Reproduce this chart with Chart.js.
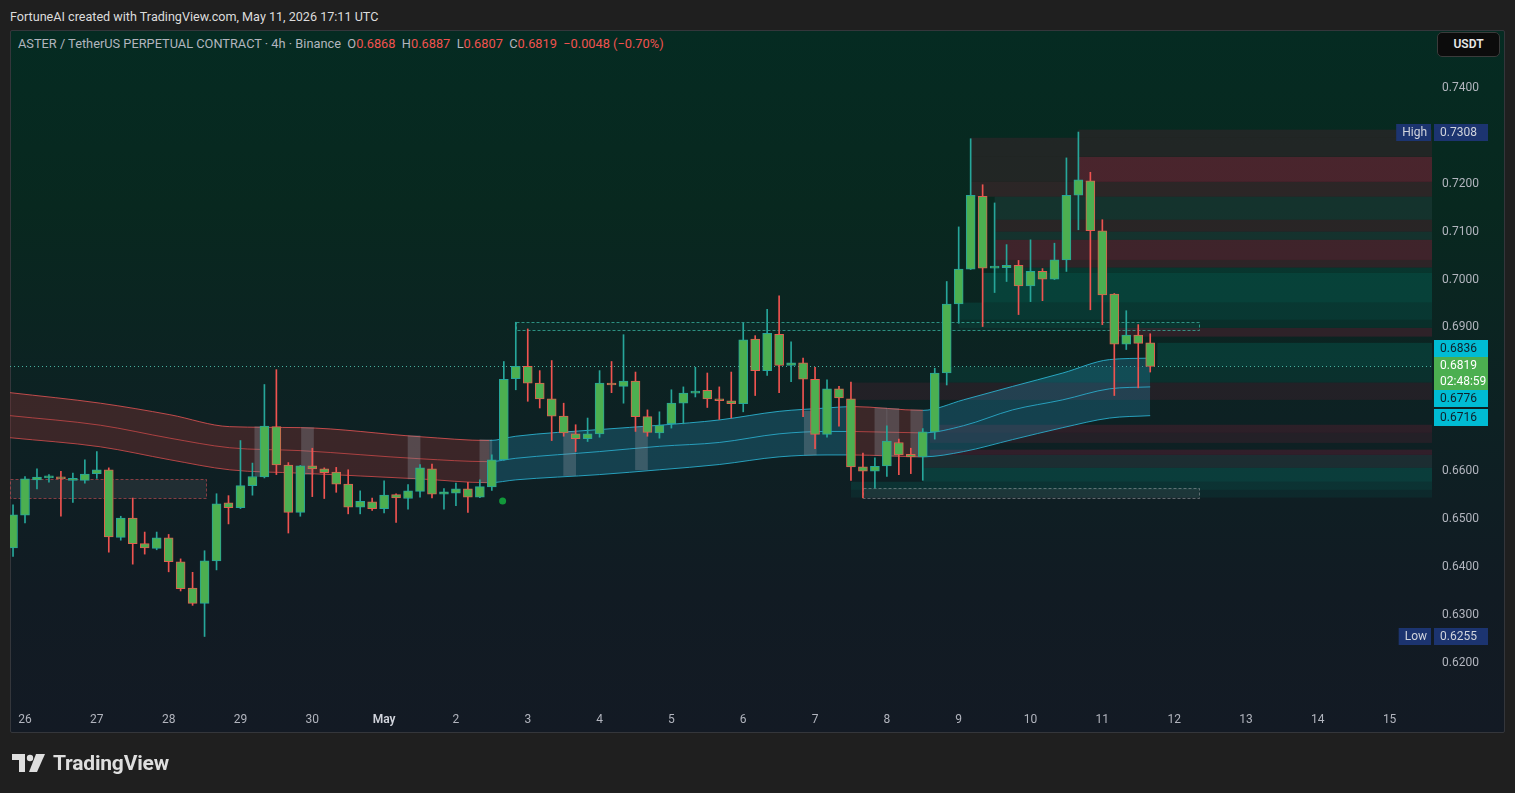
<!DOCTYPE html>
<html>
<head>
<meta charset="utf-8">
<title>ASTER / TetherUS 4h</title>
<script src="https://cdn.jsdelivr.net/npm/chart.js@4.4.1/dist/chart.umd.min.js"></script>
<style>
  html, body { margin: 0; padding: 0; }
  body { width: 1515px; height: 793px; background: #1f1f1f; position: relative; overflow: hidden;
         font-family: Roboto, "Noto Sans", sans-serif; }
  #panel { position: absolute; left: 10px; top: 30px; width: 1493px; height: 701px;
           border: 1px solid #34363b; border-radius: 2px;
           background: linear-gradient(180deg, #052b22 0%, #08281f 25%, #0d2123 55%, #111b23 80%, #131a24 100%); }
  #chart { position: absolute; left: 0; top: 0; }
  #header { position: absolute; left: 10px; top: 9px; color: #dcdcdc; font-size: 12.6px; }
  #legend { position: absolute; left: 18px; top: 36px; color: #b2b5be; font-size: 12.8px; white-space: pre; }
  #legend .v { color: #f0524f; }
  #unit { position: absolute; left: 1437px; top: 32px; width: 63px; height: 25px; box-sizing: border-box;
          background: #0c0c0c; border: 1px solid #3b3b3b; border-radius: 5px; color: #e8e8e8;
          font-size: 12px; font-weight: 600; text-align: center; line-height: 23px; }
  #brand { position: absolute; left: 12px; top: 751px; display: flex; align-items: center;
           color: #dedede; font-size: 21px; font-weight: 700; letter-spacing: -0.2px; }
  #brand svg { margin-right: 7px; }
</style>
</head>
<body>
<div id="panel"></div>
<div id="header">FortuneAI created with TradingView.com, May 11, 2026 17:11 UTC</div>
<div id="legend"></div>
<canvas id="chart" width="1515" height="793"></canvas>
<div id="unit">USDT</div>
<div id="brand">
  <svg width="34" height="20" viewBox="0 0 34 20">
    <path d="M0 1h13v18h-6v-12H0z" fill="#dedede"/>
    <circle cx="18" cy="5" r="3.2" fill="#dedede"/>
    <path d="M24 1h9l-8 18h-8z" fill="#dedede"/>
  </svg>TradingView
</div>

<script>
// 4h candles, first one is Apr 25 20:00, last one is May 11 16:00 (still open)
var candleOpen = [
  .6440,.6508,.6582,.6586,.6588,.6581,.6581,.6595,.6603,.6462,
  .6502,.6449,.6439,.6461,.6411,.6356,.6324,.6413,.6534,.6524,
  .6570,.6588,.6693,.6613,.6514,.6611,.6605,.6598,.6573,.6525,
  .6536,.6522,.6551,.6543,.6558,.6605,.6552,.6554,.6563,.6546,
  .6567,.6624,.6793,.6819,.6784,.6751,.6715,.6678,.6668,.6678,
  .6784,.6777,.6788,.6714,.6680,.6699,.6742,.6763,.6769,.6751,
  .6747,.6741,.6876,.6810,.6886,.6821,.6826,.6792,.6677,.6772,
  .6751,.6609,.6600,.6611,.6660,.6635,.6630,.6682,.6805,.6949,
  .7022,.7174,.7024,.7025,.7030,.6987,.7017,.7001,.7041,.7176,
  .7206,.7102,.6970,.6865,.6884,.6868
];
var candleHigh = [
  .6530,.6589,.6605,.6593,.6600,.6596,.6624,.6641,.6607,.6506,
  .6544,.6473,.6473,.6468,.6417,.6389,.6434,.6553,.6549,.6664,
  .6617,.6781,.6812,.6618,.6612,.6648,.6607,.6608,.6603,.6559,
  .6544,.6580,.6553,.6572,.6614,.6615,.6564,.6575,.6577,.6582,
  .6634,.6829,.6911,.6897,.6810,.6831,.6742,.6697,.6711,.6810,
  .6829,.6885,.6807,.6728,.6724,.6770,.6776,.6817,.6805,.6776,
  .6807,.6910,.6883,.6938,.6966,.6870,.6836,.6817,.6791,.6777,
  .6786,.6638,.6628,.6695,.6667,.6648,.6689,.6815,.6996,.7110,
  .7294,.7198,.7160,.7073,.7040,.7083,.7023,.7076,.7254,.7308,
  .7224,.7125,.6971,.6935,.6906,.6887
];
var candleLow = [
  .6422,.6492,.6563,.6577,.6506,.6535,.6575,.6585,.6431,.6456,
  .6406,.6427,.6436,.6390,.6350,.6320,.6255,.6394,.6490,.6522,
  .6550,.6586,.6593,.6471,.6506,.6547,.6543,.6556,.6511,.6511,
  .6518,.6513,.6493,.6521,.6546,.6544,.6521,.6528,.6514,.6545,
  .6560,.6623,.6770,.6746,.6732,.6664,.6673,.6641,.6662,.6671,
  .6764,.6742,.6683,.6673,.6669,.6690,.6699,.6755,.6733,.6708,
  .6711,.6724,.6758,.6800,.6764,.6787,.6714,.6647,.6671,.6694,
  .6581,.6544,.6565,.6589,.6593,.6595,.6581,.6667,.6780,.6909,
  .7021,.6902,.6973,.6996,.6927,.6954,.6956,.7000,.7017,.7104,
  .6937,.6906,.6758,.6854,.6774,.6807
];
var candleClose = [
  .6509,.6584,.6588,.6588,.6584,.6582,.6594,.6603,.6463,.6502,
  .6449,.6440,.6461,.6411,.6355,.6324,.6413,.6532,.6524,.6570,
  .6589,.6694,.6613,.6514,.6611,.6605,.6597,.6573,.6525,.6537,
  .6522,.6550,.6544,.6559,.6607,.6552,.6557,.6563,.6546,.6568,
  .6624,.6792,.6819,.6784,.6751,.6715,.6680,.6668,.6678,.6784,
  .6780,.6788,.6714,.6681,.6696,.6742,.6763,.6767,.6751,.6747,
  .6741,.6874,.6810,.6888,.6821,.6826,.6792,.6677,.6772,.6753,
  .6609,.6600,.6610,.6663,.6634,.6630,.6682,.6805,.6949,.7022,
  .7176,.7024,.7025,.7030,.6987,.7017,.7001,.7041,.7176,.7208,
  .7102,.6968,.6865,.6884,.6867,.6819
];
var firstCandle = -1;   // bar number of the first candle, bar 0 = Apr 26 00:00
var barsPerDay = 6;
var dayLabels = ["26","27","28","29","30","May","2","3","4","5","6","7","8","9","10","11","12","13","14","15"];
var priceTicks = [0.62,0.63,0.64,0.65,0.66,0.67,0.68,0.69,0.70,0.71,0.72,0.73,0.74];

// trend ribbon (upper / basis / lower), read at a few bars
var bandX     = [-1.25, 6.3, 12.1, 17.1, 23, 33, 38.8, 41, 48, 53, 58, 63, 67, 69.1, 75, 78.4, 82.5, 86.7, 90.6, 94];
var bandUpper = [.6764,.6742,.6718,.6693,.6691,.6672,.6664,.6673,.6687,.6696,.6707,.6725,.6732,.6735,.6727,.6749,.6777,.6805,.6833,.6836];
var bandMid   = [.6716,.6696,.6669,.6649,.6643,.6626,.6620,.6627,.6641,.6652,.6660,.6678,.6683,.6683,.6680,.6695,.6728,.6749,.6772,.6776];
var bandLower = [.6670,.6651,.6624,.6603,.6596,.6584,.6576,.6582,.6593,.6603,.6614,.6630,.6634,.6634,.6630,.6641,.6666,.6691,.6711,.6716];
var bandTrend = ["down","down","down","down","down","down","up","up","up","up","up","up","up","down","up","up","up","up","up","up"];

// bars marked grey inside the ribbon
var markX    = [19.7, 23.6, 32.5, 38.5, 45.5, 51.5, 65.6, 71.5, 72.5, 74.5];
var markHigh = [.6693,.6691,.6674,.6666,.6683,.6693,.6725,.6732,.6731,.6728];
var markLow  = [.6589,.6593,.6584,.6576,.6591,.6603,.6634,.6633,.6632,.6630];

// liquidity zones to the right
var zoneStart    = [88, 79, 79, 88, 79, 81, 81, 81, 81, 81, 81, 80, 78, 78, 91, 94.6, 77, 69.1, 75.6, 75.6, 75.6, 75, 75, 69, 69];
var zoneLow      = [.7296,.7256,.7204,.7204,.7173,.7125,.7100,.7083,.7041,.7025,.7014,.6952,.6916,.6899,.6881,.6818,.6785,.6749,.6680,.6659,.6634,.6607,.6578,.6561,.6545];
var zoneHigh     = [.7313,.7296,.7256,.7256,.7204,.7173,.7125,.7100,.7083,.7041,.7025,.7014,.6952,.6916,.6899,.6868,.6818,.6785,.6697,.6680,.6645,.6634,.6607,.6578,.6561];
var zoneSide     = ["ask","ask","ask","ask","ask","flat","ask","flat","ask","ask","bid","bid","bid","bid","ask","bid","bid","ask","ask","ask","ask","flat","bid","bid","bid"];
var zoneStrength = [0.3, 0.3, 0.3, 0.5, 0.4, 0.3, 0.35, 0.3, 0.6, 0.4, 0.3, 0.5, 0.35, 0.2, 0.4, 0.4, 0.25, 0.25, 0.35, 0.25, 0.4, 0.35, 0.5, 0.35, 0.2];

// dashed boxes
var boxStart = [-1.25, 41, 70];
var boxEnd   = [15.1, 98.1, 98.1];
var boxLow   = [.6544, .6895, .6544];
var boxHigh  = [.6584, .6912, .6565];
var boxKind  = ["bear", "bull", "flat"];

var signalX = 39.9;
var signalPrice = 0.6538;

var BODY = "#4caf50";
var UP = "#26a69a";
var DOWN = "#ef5350";
var DOWN_EDGE = "#e0604e";

function isUp(i) {
  return candleClose[i] >= candleOpen[i];
}

function bandLine(i) {
  return bandTrend[i] == "up" ? "rgba(45,185,215,0.85)" : "rgba(232,85,85,0.8)";
}

function bandFill(i) {
  return bandTrend[i] == "up" ? "rgba(40,150,190,0.28)" : "rgba(140,50,50,0.36)";
}

function zoneFill(side, s) {
  if (side == "ask") return "rgba(190,30,70," + (s * 0.5) + ")";
  if (side == "bid") return "rgba(0,150,130," + (s * 0.5) + ")";
  return "rgba(95,115,125," + (s * 0.5) + ")";
}

var candleX = candleOpen.map(function(v, i) { return i + firstCandle; });
var last = candleClose.length - 1;

// legend line
var chg = candleClose[last] - candleClose[last - 1];
var pct = chg / candleClose[last - 1] * 100;
var minus = function(s) { return s.replace("-", "\u2212"); };
document.getElementById("legend").innerHTML =
  "ASTER / TetherUS PERPETUAL CONTRACT \u00b7 4h \u00b7 Binance  " +
  "O<span class='v'>" + candleOpen[last].toFixed(4) + "</span>  " +
  "H<span class='v'>" + candleHigh[last].toFixed(4) + "</span>  " +
  "L<span class='v'>" + candleLow[last].toFixed(4) + "</span>  " +
  "C<span class='v'>" + candleClose[last].toFixed(4) + "</span>  " +
  "<span class='v'>" + minus(chg.toFixed(4)) + " (" + minus(pct.toFixed(2)) + "%)</span>";

var zones = {
  id: "zones",
  beforeDatasetsDraw: function(chart) {
    var ctx = chart.ctx, a = chart.chartArea, x = chart.scales.x, y = chart.scales.y;
    ctx.save();
    ctx.beginPath();
    ctx.rect(a.left, a.top, a.right - a.left, a.bottom - a.top);
    ctx.clip();

    zoneStart.forEach(function(s, i) {
      var x0 = x.getPixelForValue(s);
      var y0 = y.getPixelForValue(zoneHigh[i]);
      var y1 = y.getPixelForValue(zoneLow[i]);
      ctx.fillStyle = zoneFill(zoneSide[i], zoneStrength[i]);
      ctx.fillRect(x0, y0, a.right - x0, y1 - y0);
    });

    ctx.lineWidth = 1;
    ctx.setLineDash([3, 2]);
    boxStart.forEach(function(s, i) {
      var x0 = Math.round(x.getPixelForValue(s)) + 0.5;
      var x1 = Math.round(x.getPixelForValue(boxEnd[i])) + 0.5;
      var y0 = Math.round(y.getPixelForValue(boxHigh[i])) + 0.5;
      var y1 = Math.round(y.getPixelForValue(boxLow[i])) + 0.5;
      if (boxKind[i] == "bear") {
        ctx.fillStyle = "rgba(150,140,150,0.14)";
        ctx.strokeStyle = "rgba(230,80,90,0.55)";
      } else if (boxKind[i] == "bull") {
        ctx.fillStyle = "rgba(38,166,154,0.06)";
        ctx.strokeStyle = "rgba(60,190,170,0.7)";
      } else {
        ctx.fillStyle = "rgba(150,150,160,0.12)";
        ctx.strokeStyle = "rgba(170,170,175,0.5)";
      }
      ctx.fillRect(x0, y0, x1 - x0, y1 - y0);
      ctx.strokeRect(x0, y0, x1 - x0, y1 - y0);
    });

    // last price line
    var yc = Math.round(y.getPixelForValue(candleClose[last])) + 0.5;
    ctx.setLineDash([1, 3]);
    ctx.strokeStyle = "rgba(80,200,180,0.85)";
    ctx.beginPath();
    ctx.moveTo(a.left, yc);
    ctx.lineTo(a.right, yc);
    ctx.stroke();
    ctx.restore();
  },
  afterDatasetsDraw: function(chart) {
    var ctx = chart.ctx, x = chart.scales.x, y = chart.scales.y;
    ctx.save();
    ctx.fillStyle = "#12983a";
    ctx.beginPath();
    ctx.arc(x.getPixelForValue(signalX), y.getPixelForValue(signalPrice), 3.5, 0, Math.PI * 2);
    ctx.fill();
    ctx.restore();
  }
};

function tagBox(ctx, x, top, w, h, bg, fg, lines) {
  ctx.fillStyle = bg;
  ctx.fillRect(x, Math.round(top), w, h);
  ctx.fillStyle = fg;
  var lh = h / lines.length;
  lines.forEach(function(t, k) {
    ctx.fillText(t, x + 6, Math.round(top) + lh * (k + 0.5) + 0.5);
  });
}

var axisTags = {
  id: "axisTags",
  afterDraw: function(chart) {
    var ctx = chart.ctx, a = chart.chartArea, y = chart.scales.y;
    var x0 = a.right + 2, w = 54, h = 17;
    ctx.save();
    ctx.font = "12px Roboto";
    ctx.textBaseline = "middle";
    ctx.textAlign = "left";

    var nb = bandUpper.length - 1;
    var closeTop = y.getPixelForValue(candleClose[last]) - 9.5;
    var closeH = 33;
    var upC = Math.min(y.getPixelForValue(bandUpper[nb]), closeTop - h / 2);
    var midC = Math.max(y.getPixelForValue(bandMid[nb]), closeTop + closeH + h / 2);
    var lowC = Math.max(y.getPixelForValue(bandLower[nb]), midC + h + 2);

    tagBox(ctx, x0, upC - h / 2, w, h, "#00bcd4", "#10202a", [bandUpper[nb].toFixed(4)]);
    tagBox(ctx, x0, closeTop, w, closeH, "#4caf50", "#ffffff", [candleClose[last].toFixed(4), "02:48:59"]);
    tagBox(ctx, x0, midC - h / 2, w, h, "#00bcd4", "#10202a", [bandMid[nb].toFixed(4)]);
    tagBox(ctx, x0, lowC - h / 2, w, h, "#00bcd4", "#10202a", [bandLower[nb].toFixed(4)]);

    var hi = Math.max.apply(null, candleHigh);
    var lo = Math.min.apply(null, candleLow);
    [["High", hi], ["Low", lo]].forEach(function(m) {
      var yc = y.getPixelForValue(m[1]);
      tagBox(ctx, x0, yc - h / 2, w, h, "#1c3470", "#d1d4dc", [m[1].toFixed(4)]);
      var lw = ctx.measureText(m[0]).width + 10;
      tagBox(ctx, a.right - lw - 1, yc - h / 2, lw, h, "#1c3470", "#d1d4dc", [m[0]]);
    });
    ctx.restore();
  }
};

Chart.defaults.font.family = "Roboto";

new Chart(document.getElementById("chart"), {
  type: "bar",
  data: {
    datasets: [
      {
        type: "line",
        data: bandX.map(function(v, i) { return { x: v, y: bandUpper[i] }; }),
        borderWidth: 1,
        pointRadius: 0,
        cubicInterpolationMode: "monotone",
        fill: 2,
        backgroundColor: "rgba(40,150,190,0.28)",
        segment: {
          borderColor: function(c) { return bandLine(c.p0DataIndex); },
          backgroundColor: function(c) { return bandFill(c.p0DataIndex); }
        },
        order: 10
      },
      {
        type: "line",
        data: bandX.map(function(v, i) { return { x: v, y: bandMid[i] }; }),
        borderWidth: 1,
        pointRadius: 0,
        cubicInterpolationMode: "monotone",
        fill: false,
        segment: { borderColor: function(c) { return bandLine(c.p0DataIndex); } },
        order: 10
      },
      {
        type: "line",
        data: bandX.map(function(v, i) { return { x: v, y: bandLower[i] }; }),
        borderWidth: 1,
        pointRadius: 0,
        cubicInterpolationMode: "monotone",
        fill: false,
        segment: { borderColor: function(c) { return bandLine(c.p0DataIndex); } },
        order: 10
      },
      {
        data: markX.map(function(v, i) { return { x: v, y: [markLow[i], markHigh[i]] }; }),
        backgroundColor: "rgba(150,155,165,0.30)",
        barThickness: 12,
        grouped: false,
        order: 8
      },
      {
        data: candleX.map(function(v, i) { return { x: v, y: [candleLow[i], candleHigh[i]] }; }),
        backgroundColor: function(c) { return isUp(c.dataIndex) ? UP : DOWN; },
        barThickness: 1,
        grouped: false,
        order: 2
      },
      {
        data: candleX.map(function(v, i) { return { x: v, y: [candleOpen[i], candleClose[i]] }; }),
        backgroundColor: BODY,
        borderColor: function(c) { return isUp(c.dataIndex) ? UP : DOWN_EDGE; },
        borderWidth: 1,
        borderSkipped: false,
        minBarLength: 2,
        barThickness: 9,
        grouped: false,
        order: 1
      }
    ]
  },
  options: {
    responsive: false,
    devicePixelRatio: 1,
    animation: false,
    layout: { padding: { left: 10, top: 30, right: 10, bottom: 60 } },
    plugins: { legend: { display: false }, tooltip: { enabled: false } },
    scales: {
      x: {
        type: "linear",
        offset: false,
        min: -1.253,
        max: 117.54,
        grid: { display: false, drawTicks: false },
        border: { display: false },
        afterBuildTicks: function(scale) {
          scale.ticks = dayLabels.map(function(d, i) { return { value: i * barsPerDay }; });
        },
        afterFit: function(scale) { scale.height = 28; },
        ticks: {
          autoSkip: false,
          maxRotation: 0,
          padding: 8,
          color: function(c) { return dayLabels[Math.round(c.tick.value / barsPerDay)] == "May" ? "#d1d4dc" : "#b2b5be"; },
          font: function(c) {
            var bold = c.tick && dayLabels[Math.round(c.tick.value / barsPerDay)] == "May";
            return { family: "Roboto", size: 12, weight: bold ? "600" : "400" };
          },
          callback: function(v) { return dayLabels[Math.round(v / barsPerDay)]; }
        }
      },
      y: {
        position: "right",
        min: 0.6112,
        max: 0.7521,
        beginAtZero: false,
        grid: { display: false, drawTicks: false },
        border: { display: false },
        afterBuildTicks: function(scale) {
          scale.ticks = priceTicks.map(function(v) { return { value: v }; });
        },
        afterFit: function(scale) { scale.width = 73; },
        ticks: {
          padding: 10,
          color: "#b2b5be",
          font: { family: "Roboto", size: 12 },
          callback: function(v) { return v.toFixed(4); }
        }
      }
    }
  },
  plugins: [zones, axisTags]
});
</script>
</body>
</html>
